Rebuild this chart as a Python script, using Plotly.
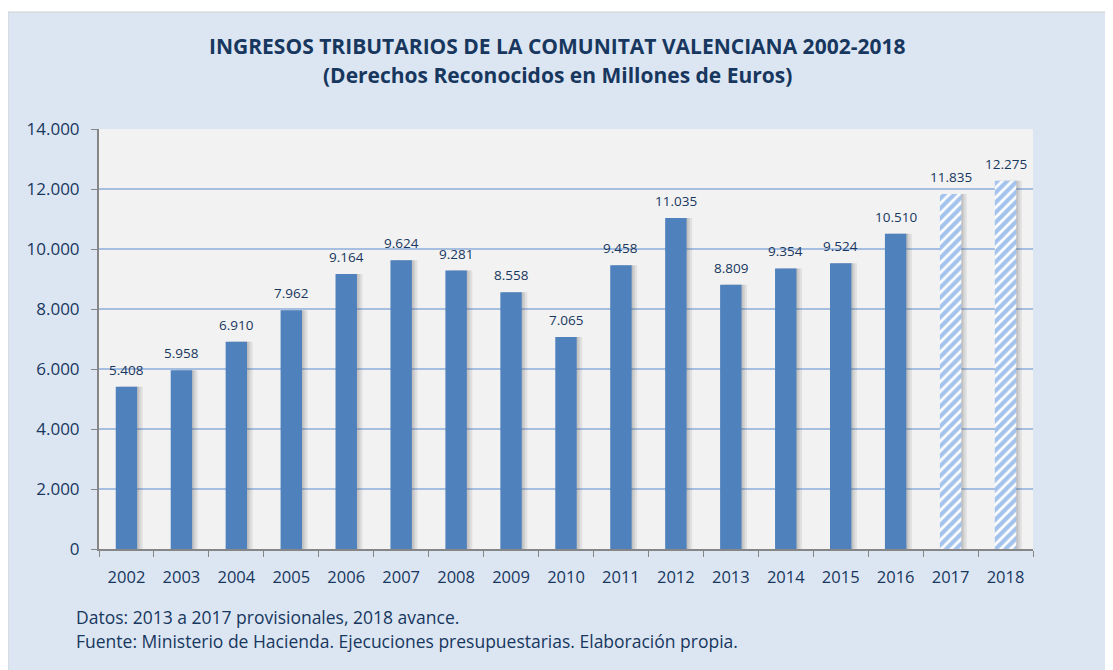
import plotly.graph_objects as go

years = ["2002", "2003", "2004", "2005", "2006", "2007", "2008", "2009", "2010",
         "2011", "2012", "2013", "2014", "2015", "2016", "2017", "2018"]
ingresos = [5408, 5958, 6910, 7962, 9164, 9624, 9281, 8558, 7065,
            9458, 11035, 8809, 9354, 9524, 10510, 11835, 12275]
estimated_years = ["2017", "2018"]

title_l1 = "INGRESOS TRIBUTARIOS DE LA COMUNITAT VALENCIANA 2002-2018"
title_l2 = "(Derechos Reconocidos en Millones de Euros)"
note1 = "Datos: 2013 a 2017 provisionales, 2018 avance."
note2 = "Fuente: Ministerio de Hacienda. Ejecuciones presupuestarias. Elaboración propia."

solid_x = [y for y in years if y not in estimated_years]
solid_y = [v for y, v in zip(years, ingresos) if y not in estimated_years]
hatch_x = [y for y in years if y in estimated_years]
hatch_y = [v for y, v in zip(years, ingresos) if y in estimated_years]

TXT = "#17375E"
BLUE = "#4F81BD"
FONT = "'Open Sans', sans-serif"
BW = 0.39

# page-pixel helpers (browser body has an 8px margin)
def px(x):
    return (x - 99) / 934

def py(y):
    return (549 - y) / 420

fig = go.Figure()

# soft shadow to the right of each bar
for off, alpha in [(0.10, 0.10), (0.06, 0.10), (0.03, 0.10)]:
    fig.add_trace(go.Bar(
        x=years, y=ingresos, width=BW, offset=-BW / 2 + off,
        marker=dict(color="rgba(70,70,70,%s)" % alpha, line=dict(width=0)),
        hoverinfo="skip", showlegend=False,
    ))

fig.add_trace(go.Bar(
    x=solid_x, y=solid_y, width=BW, offset=-BW / 2,
    marker=dict(color=BLUE, line=dict(width=0)),
    showlegend=False,
))
fig.add_trace(go.Bar(
    x=hatch_x, y=hatch_y, width=BW, offset=-BW / 2,
    marker=dict(
        color="#FFFFFF", line=dict(width=0),
        pattern=dict(shape="/", fgcolor="#4A87DA", bgcolor="#FFFFFF",
                     size=7, solidity=0.62, fillmode="overlay"),
    ),
    showlegend=False,
))

# value labels: x given as the category index of each year
value_labels = [
    dict(x=i, y=v, text=f"{v:,}".replace(",", "."), xref="x", yref="y",
         showarrow=False, yanchor="middle", yshift=17,
         font=dict(size=13.5, color=TXT, family=FONT))
    for i, v in enumerate(ingresos)
]

fig.update_layout(
    width=1105, height=662,
    barmode="overlay",
    separators=",.",
    paper_bgcolor="#DCE6F2",
    plot_bgcolor="#F2F2F2",
    margin=dict(l=91, r=80, t=121, b=121),
    font=dict(family=FONT, color=TXT),
    xaxis=dict(
        type="category", categoryorder="array", categoryarray=years,
        range=[-0.5, len(years) - 0.5],
        tickson="boundaries", ticks="outside", ticklen=6,
        tickcolor="#868686", showline=True, linecolor="#868686", linewidth=2,
        tickfont=dict(size=16.5, color=TXT, family=FONT), showgrid=False,
        ticklabelstandoff=12,
    ),
    yaxis=dict(
        range=[0, 14000], dtick=2000, tickformat=",.0f",
        showgrid=True, gridcolor="#A6BFE0", gridwidth=1.5,
        showline=True, linecolor="#868686", linewidth=2,
        ticks="outside", ticklen=6, tickcolor="#868686",
        tickfont=dict(size=17, color=TXT, family=FONT), zeroline=False,
        ticklabelstandoff=8,
    ),
    annotations=value_labels + [
        dict(text="<b>" + title_l1 + "</b>", xref="paper", yref="paper",
             x=px(557), y=py(46), xanchor="center", yanchor="middle", showarrow=False,
             font=dict(size=21, color=TXT, family=FONT)),
        dict(text="<b>" + title_l2 + "</b>", xref="paper", yref="paper",
             x=px(557), y=py(75), xanchor="center", yanchor="middle", showarrow=False,
             font=dict(size=21, color=TXT, family=FONT)),
        dict(text=note1, xref="paper", yref="paper", x=px(74), y=py(617),
             xanchor="left", yanchor="middle", showarrow=False,
             font=dict(size=17.5, color=TXT, family=FONT)),
        dict(text=note2, xref="paper", yref="paper", x=px(74), y=py(641),
             xanchor="left", yanchor="middle", showarrow=False,
             font=dict(size=17.5, color=TXT, family=FONT)),
    ],
    shapes=[
        dict(type="rect", xref="paper", yref="paper", layer="above",
             x0=px(0), x1=px(1113), y0=py(12), y1=py(8),
             fillcolor="#FFFFFF", line=dict(width=0)),
        dict(type="rect", xref="paper", yref="paper", layer="above",
             x0=px(8), x1=px(1112), y0=py(672), y1=py(12),
             fillcolor="rgba(0,0,0,0)", line=dict(width=1, color="#D0D0D0")),
    ],
)

fig.write_html("out.html")
